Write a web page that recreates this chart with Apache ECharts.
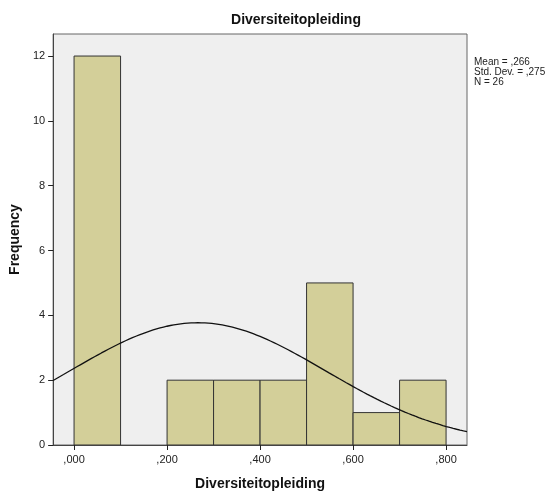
<!DOCTYPE html>
<html>
<head>
<meta charset="utf-8">
<script src="https://cdn.jsdelivr.net/npm/echarts@6/dist/echarts.min.js"></script>
<style>
  html, body { margin: 0; padding: 0; background: #ffffff; }
  #chart { width: 554px; height: 498px; }
</style>
</head>
<body>
<div id="chart"></div>
<script>
// Histogram bins (lower edge, upper edge) and their frequencies
const binStarts = [0.0, 0.1, 0.2, 0.3, 0.4, 0.5, 0.6, 0.7];
const binWidth = 0.1;
const frequencies = [12, 0, 2, 2, 2, 5, 1, 2];

// Summary statistics shown beside the plot
const statMean = 0.266;
const statSd = 0.275;
const statN = 26;

// Tick positions and labels
const xTicks = [0, 0.2, 0.4, 0.6, 0.8];
const xTickLabels = [',000', ',200', ',400', ',600', ',800'];
const yTicks = [0, 2, 4, 6, 8, 10, 12];

const xMin = -0.045, xMax = 0.845;
const yMax = 12.68;

// Fitted normal curve scaled to counts: N * binWidth * pdf(x)
const curvePoints = [];
const steps = 120;
for (let i = 0; i <= steps; i++) {
  const x = xMin + (xMax - xMin) * i / steps;
  const z = (x - statMean) / statSd;
  const pdf = Math.exp(-0.5 * z * z) / (statSd * Math.sqrt(2 * Math.PI));
  curvePoints.push([x, statN * binWidth * pdf]);
}

const barData = binStarts.map((s, i) => [s, s + binWidth, frequencies[i]]);

const chart = echarts.init(document.getElementById('chart'), null, { renderer: 'canvas' });
const font = 'Arial, "Liberation Sans", sans-serif';

chart.setOption({
  animation: false,
  backgroundColor: '#ffffff',
  grid: {
    left: 52, top: 34, right: 87, bottom: 53,
    show: true,
    backgroundColor: '#efefef',
    borderColor: '#666666',
    borderWidth: 1
  },
  xAxis: {
    type: 'value',
    min: xMin, max: xMax,
    name: 'Diversiteitopleiding',
    nameLocation: 'middle',
    nameGap: 32,
    nameTextStyle: { fontFamily: font, fontSize: 14, fontWeight: 'bold', color: '#111' },
    axisLine: { show: true, onZero: false, lineStyle: { color: '#444', width: 1 } },
    axisTick: { show: true, length: 5, inside: false, customValues: xTicks, lineStyle: { color: '#222' } },
    axisLabel: {
      customValues: xTicks,
      margin: 9,
      fontFamily: font, fontSize: 11, color: '#222',
      formatter: v => xTickLabels[xTicks.findIndex(t => Math.abs(t - v) < 1e-9)]
    },
    splitLine: { show: false }
  },
  yAxis: {
    type: 'value',
    min: 0, max: yMax,
    name: 'Frequency',
    nameLocation: 'middle',
    nameGap: 27,
    nameTextStyle: { fontFamily: font, fontSize: 14, fontWeight: 'bold', color: '#111' },
    axisLine: { show: true, onZero: false, lineStyle: { color: '#444', width: 1 } },
    axisTick: { show: true, length: 5, inside: false, customValues: yTicks, lineStyle: { color: '#222' } },
    axisLabel: {
      customValues: yTicks,
      margin: 8,
      fontFamily: font, fontSize: 11, color: '#222'
    },
    splitLine: { show: false }
  },
  graphic: [
    {
      type: 'text', x: 296, y: 20,
      style: {
        text: 'Diversiteitopleiding',
        font: 'bold 14px ' + font,
        fill: '#111',
        textAlign: 'center', textVerticalAlign: 'middle'
      }
    },
    {
      type: 'text', x: 474, y: 57,
      style: {
        text: 'Mean = ,' + Math.round(statMean * 1000) + '\nStd. Dev. = ,' + Math.round(statSd * 1000) + '\nN = ' + statN,
        font: '10px ' + font,
        lineHeight: 10,
        fill: '#222',
        textAlign: 'left', textVerticalAlign: 'top'
      }
    }
  ],
  series: [
    {
      type: 'custom',
      clip: true,
      data: barData,
      encode: { x: [0, 1], y: 2 },
      renderItem: (params, api) => {
        const h = api.value(2);
        if (!h) return null;
        const p0 = api.coord([api.value(0), h]);
        const p1 = api.coord([api.value(1), 0]);
        return {
          type: 'rect',
          shape: { x: p0[0], y: p0[1], width: p1[0] - p0[0], height: p1[1] - p0[1] },
          style: { fill: '#d3cf99', stroke: '#333333', lineWidth: 1 }
        };
      },
      z: 2
    },
    {
      type: 'line',
      data: curvePoints,
      showSymbol: false,
      smooth: false,
      clip: true,
      lineStyle: { color: '#111', width: 1.3 },
      z: 3
    }
  ]
});
</script>
</body>
</html>
